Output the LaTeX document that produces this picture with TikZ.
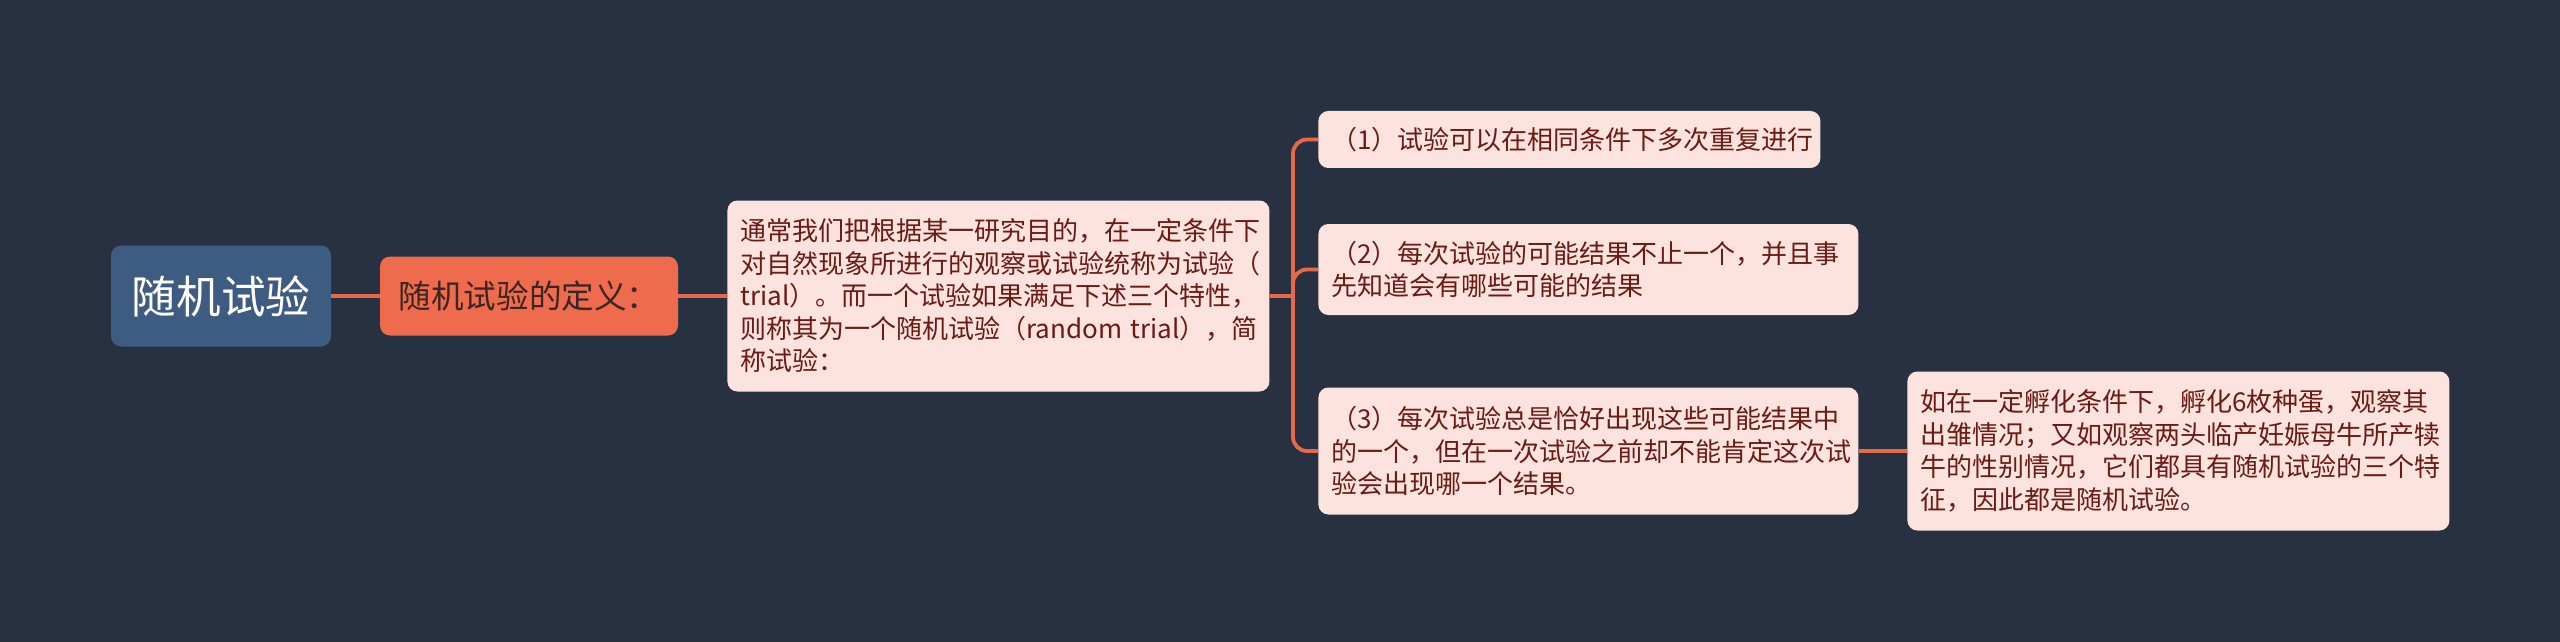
\documentclass[tikz,border=0pt]{standalone}
\usepackage{fontspec}
\setmainfont{Noto Sans CJK SC}
\definecolor{bg}{HTML}{283142}
\definecolor{rootfill}{HTML}{3E5B82}
\definecolor{deffill}{HTML}{EE6B4D}
\definecolor{deftext}{HTML}{3A2622}
\definecolor{leaffill}{HTML}{FDE3DD}
\definecolor{leaftext}{HTML}{6B1A14}
\definecolor{conncol}{HTML}{E8694A}
\tikzset{
  rootbox/.style={fill=rootfill, text=white, rounded corners=5pt, inner sep=0pt,
    font=\fontsize{22.3}{26}\selectfont, align=center},
  defbox/.style={fill=deffill, text=deftext, rounded corners=5pt, inner sep=0pt,
    font=\fontsize{16.3}{19}\selectfont, align=center},
  leaf/.style={fill=leaffill, text=leaftext, rounded corners=5pt, inner xsep=6.5pt, inner ysep=0pt,
    font=\fontsize{13}{16.25}\selectfont, align=left, anchor=west},
  conn/.style={draw=conncol, line width=1.9pt},
}
\begin{document}
\begin{tikzpicture}[x=0.5pt,y=-0.5pt]
\fill[bg] (0,0) rectangle (2560,642);
\useasboundingbox (0,0) rectangle (2560,642);

\node[rootbox, minimum width=110pt, minimum height=50.5pt] (root) at (221,296) {随机试验};
\node[defbox, minimum width=149pt, minimum height=39.5pt] (def) at (529,296) {随机试验的定义：};
\node[leaf, text width=258pt, minimum height=95.5pt] (desc) at (727,296)
  {通常我们把根据某一研究目的，在一定条件下\\对自然现象所进行的观察或试验统称为试验（\\trial）。而一个试验如果满足下述三个特性，\\\mbox{则称其为一个随机试验（random trial），简}\\称试验：};
\node[leaf, text width=238pt, minimum height=28.5pt] (b1) at (1318,139.5)
  {（1）试验可以在相同条件下多次重复进行};
\node[leaf, text width=257pt, minimum height=45.5pt] (b2) at (1318,269.5)
  {（2）每次试验的可能结果不止一个，并且事\\先知道会有哪些可能的结果};
\node[leaf, text width=257pt, minimum height=63.5pt] (b3) at (1318,451)
  {（3）每次试验总是恰好出现这些可能结果中\\的一个，但在一次试验之前却不能肯定这次试\\验会出现哪一个结果。};
\node[leaf, text width=258pt, minimum height=79.5pt] (b4) at (1907,451)
  {如在一定孵化条件下，孵化6枚种蛋，观察其\\出雏情况；又如观察两头临产妊娠母牛所产犊\\牛的性别情况，它们都具有随机试验的三个特\\征，因此都是随机试验。};

\coordinate (tr) at (1293,296);
\draw[conn] (root.east) -- (def.west);
\draw[conn] (def.east) -- (desc.west);
\draw[conn] (desc.east) -- (tr);
\draw[conn, rounded corners=7pt] (tr) |- (b1.west);
\draw[conn, rounded corners=7pt] (tr) |- (b2.west);
\draw[conn, rounded corners=7pt] (tr) |- (b3.west);
\draw[conn] (b3.east) -- (b4.west);
\end{tikzpicture}
\end{document}
